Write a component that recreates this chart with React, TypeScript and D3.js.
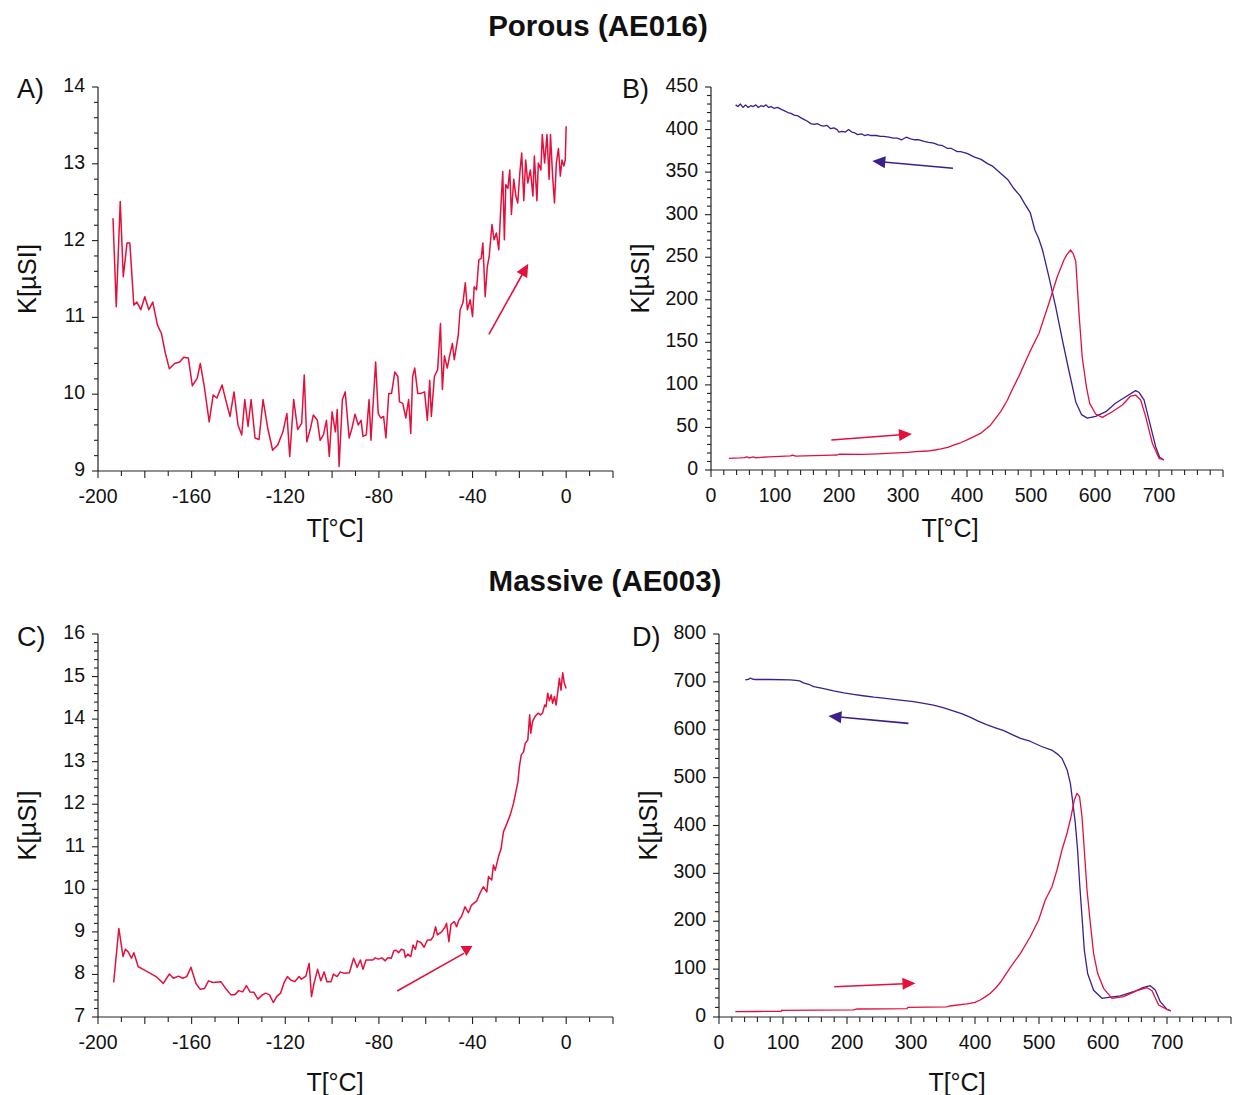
import React from "react";
import * as d3 from "d3";

// ---------- DATA ----------
// Panel A: Porous (AE016), low temperature heating  [T °C, K µSI]
const porousLowT: [number, number][] = [
  [-193.6, 12.29], [-192.2, 11.14], [-190.5, 12.51], [-189.2, 11.53], [-187.6, 11.97], [-186.4, 11.97],
  [-184.7, 11.16], [-183.4, 11.2], [-181.7, 11.1], [-180, 11.27], [-178.3, 11.1], [-176.6, 11.2],
  [-174.6, 10.9], [-172.9, 10.79], [-171.2, 10.53], [-169.5, 10.33], [-167.3, 10.4], [-165.1, 10.42],
  [-163.4, 10.48], [-161.4, 10.47], [-159.7, 10.11], [-157.6, 10.21], [-156.3, 10.4], [-154.6, 10.1],
  [-152.5, 9.64], [-150.8, 9.99], [-149.2, 9.95], [-147, 10.12], [-145.3, 9.91], [-143.6, 9.71],
  [-141.9, 10.03], [-140.2, 9.6], [-138.6, 9.47], [-137.3, 9.93], [-135.9, 9.58], [-134.6, 9.93],
  [-132.9, 9.43], [-131.2, 9.41], [-129.5, 9.93], [-127.5, 9.56], [-125.4, 9.27], [-123.2, 9.34],
  [-121, 9.51], [-119.3, 9.75], [-118.1, 9.19], [-116.4, 9.93], [-114.7, 9.54], [-113, 9.62],
  [-111.9, 10.25], [-110.8, 9.38], [-109.2, 9.56], [-108, 9.73], [-106.3, 9.66], [-105.1, 9.4],
  [-103.7, 9.47], [-102.4, 9.66], [-101.2, 9.19], [-100, 9.77], [-98.6, 9.51], [-97.8, 9.8],
  [-97, 9.06], [-95.6, 9.93], [-94.4, 10.03], [-92.7, 9.43], [-91.5, 9.56], [-90.2, 9.74],
  [-88.8, 9.6], [-87.6, 9.66], [-86.8, 9.45], [-85.4, 9.47], [-84.2, 9.93], [-83.4, 9.4],
  [-81.4, 10.42], [-80.3, 9.75], [-79.2, 9.69], [-78, 9.71], [-77, 9.43], [-75.8, 10.01],
  [-74.6, 10.01], [-73.2, 10.29], [-71.9, 10.23], [-71.2, 9.9], [-69.8, 9.88], [-68.5, 9.69],
  [-67.3, 9.93], [-66.4, 9.49], [-65.6, 10.23], [-64.7, 10.34], [-63.4, 10.01], [-62.2, 10.01],
  [-60.5, 10.03], [-59.3, 9.66], [-58.3, 10.18], [-57.6, 9.71], [-56.3, 10.23], [-54.9, 10.32],
  [-53.7, 10.92], [-52.9, 10.06], [-52, 10.5], [-50.8, 10.34], [-49.8, 10.5], [-48.6, 10.66],
  [-47.8, 10.45], [-46.1, 10.77], [-45.3, 11.1], [-44.1, 11.19], [-43.1, 11.45], [-42.2, 11.1],
  [-41, 11.23], [-40, 11.01], [-39.3, 11.4], [-38.3, 11.36], [-37.3, 11.75], [-36.3, 11.77],
  [-35.6, 11.97], [-34.6, 11.27], [-33.7, 11.66], [-32.9, 11.79], [-31.7, 12.21], [-30.8, 12.01],
  [-29.8, 12.1], [-28.8, 11.88], [-28.1, 12.32], [-27.1, 12.9], [-26.4, 12.01], [-25.8, 12.73],
  [-24.9, 12.68], [-24.1, 12.92], [-23.4, 12.34], [-22.4, 12.8], [-21.5, 12.58], [-20.7, 12.49],
  [-19.8, 12.88], [-19, 13.14], [-18.1, 12.52], [-17.3, 13.05], [-16.4, 12.75], [-15.3, 12.92],
  [-14.2, 12.58], [-13.6, 13.1], [-12.5, 12.52], [-11.9, 13.01], [-10.8, 12.92], [-10.2, 13.38],
  [-9.2, 13.01], [-8.2, 13.38], [-7.3, 12.8], [-6.7, 13.38], [-5.8, 12.84], [-5, 12.49],
  [-4.2, 13.01], [-3.3, 13.2], [-2.5, 12.84], [-1.8, 13.05], [-1, 12.97], [-0.4, 13.05], [0, 13.49],
];

// Panel B: Porous (AE016), high temperature heating (red) and cooling (blue)
const porousHeating: [number, number][] = [
  [28, 13.7], [35, 14], [45, 14.2], [52, 14.5], [56, 15.5], [60, 14.3], [66, 15.4], [70, 14.2],
  [78, 14.9], [90, 15.5], [100, 15.8], [124, 16.5], [128, 17.5], [132, 16.4], [161, 16.9], [190, 17.4],
  [197, 17.6], [200, 18.5], [239, 18.4], [260, 19], [275, 19.6], [300, 20.5], [307, 20.8], [320, 21.5],
  [338, 22.3], [350, 23.5], [359, 24.7], [370, 26.5], [380, 29.4], [390, 32], [400, 35.3], [410, 39],
  [421, 43], [437, 53], [452.6, 68.5], [463, 82], [473, 98], [481, 110], [497, 137], [512.5, 160.6],
  [528, 196], [541, 227], [551.6, 247], [556, 253], [562, 258.5], [566, 254], [570, 245], [575, 184],
  [580, 133], [586.5, 98], [591.7, 78.3], [601, 65.8], [611.5, 61.9], [627, 68.5], [642.7, 76.4],
  [655.7, 86.9], [663.5, 88.1], [671.4, 82.3], [679.2, 62.7], [689.6, 31.3], [700, 13.7], [707.8, 11.8],
];
const porousCooling: [number, number][] = [
  [38.5, 429], [42, 427], [46, 430], [50, 426], [54, 429], [58, 426], [62, 428], [66, 427], [70, 429],
  [74, 426], [78, 428], [82, 427], [86, 429], [90, 426], [94, 427], [98, 425], [104, 426], [109, 424],
  [115, 422], [120, 420], [125, 419], [130, 417], [136, 416], [140, 414], [145, 412], [150, 410],
  [156, 407], [161, 406], [166, 407], [171, 405], [176, 404], [181, 405], [187, 401], [192, 402],
  [197, 400], [200, 397], [205, 398], [210, 397], [215, 400], [220, 397], [225, 396], [229, 394],
  [235, 395], [240, 393], [245, 394], [250, 393], [258, 393], [265, 392], [270, 392], [278, 391],
  [285, 390], [291, 390], [298, 388], [305, 391], [312, 389], [318, 388], [325, 388], [333, 386],
  [340, 385], [348, 384], [355, 382], [362, 381], [369, 378], [375, 378], [380, 376], [385, 374],
  [390, 374], [400, 372], [411, 368], [422, 365], [432, 360], [440, 357], [452, 349], [464, 341],
  [473, 331], [483, 322], [490, 313], [499, 302], [506, 282], [512, 272], [518, 258.5], [528, 227],
  [538.5, 192], [549, 153], [559, 117.5], [570, 80], [579, 65], [588, 61], [601, 63], [617, 68.5],
  [632, 78.4], [648, 86], [663.5, 93.2], [669, 91], [676.6, 82.3], [684.4, 58.8], [694.8, 27.4],
  [701, 15], [707.8, 11.8],
];

// Panel C: Massive (AE003), low temperature heating
const massiveLowT: [number, number][] = [
  [-193.3, 7.81], [-191.1, 9.08], [-189.3, 8.42], [-188.3, 8.59], [-187.1, 8.53], [-185.7, 8.38],
  [-184.7, 8.51], [-182.8, 8.18], [-180.7, 8.12], [-177.8, 8.03], [-175.2, 7.95], [-172.1, 7.79],
  [-169.5, 8.01], [-167.8, 7.91], [-165.6, 7.96], [-163.8, 7.91], [-162.1, 7.95], [-160.3, 8.17],
  [-158.1, 7.78], [-156.3, 7.65], [-154.5, 7.67], [-152.8, 7.85], [-150.9, 7.81], [-147.5, 7.83],
  [-145.2, 7.65], [-143.2, 7.52], [-141.6, 7.52], [-139.9, 7.62], [-138.2, 7.59], [-136.6, 7.74],
  [-135.1, 7.59], [-133.4, 7.58], [-131.7, 7.42], [-129.8, 7.52], [-128.4, 7.56], [-126.7, 7.52],
  [-125.1, 7.34], [-123.7, 7.48], [-122, 7.56], [-120.5, 7.81], [-119.1, 7.95], [-117.7, 7.87],
  [-116, 7.83], [-114.1, 7.95], [-113.1, 7.89], [-111.2, 7.96], [-109.8, 8.26], [-108.8, 7.48],
  [-107.7, 7.79], [-106.2, 8.12], [-104.8, 7.85], [-103.4, 8.06], [-102.2, 7.83], [-100.5, 7.83],
  [-99.4, 8.01], [-97.9, 7.95], [-96.5, 8.06], [-95.1, 8.03], [-92.6, 8.04], [-90.8, 8.38],
  [-89.3, 8.17], [-87.9, 8.34], [-86.8, 8.12], [-85.5, 8.34], [-82.6, 8.34], [-81.6, 8.39],
  [-80.2, 8.36], [-78.7, 8.39], [-77.3, 8.32], [-76.2, 8.39], [-74.7, 8.38], [-73.6, 8.56],
  [-72.6, 8.57], [-71.6, 8.51], [-70.4, 8.59], [-69.3, 8.57], [-68.7, 8.4], [-67.6, 8.48],
  [-66.4, 8.42], [-65.4, 8.69], [-64.4, 8.59], [-63.6, 8.79], [-62.1, 8.75], [-60.7, 8.64],
  [-59.3, 8.81], [-57.8, 8.81], [-56.8, 8.89], [-55.8, 9.12], [-55, 8.93], [-53.2, 9.0],
  [-51.8, 9.11], [-51.1, 9.2], [-50.1, 8.77], [-49.2, 9.18], [-47.8, 9.24], [-46.8, 9.12],
  [-45.8, 9.28], [-44.7, 9.36], [-43.2, 9.59], [-41.8, 9.45], [-40.4, 9.63], [-38.2, 9.73],
  [-36.8, 9.91], [-35.4, 10.06], [-33.9, 9.94], [-33.2, 10.3], [-31.8, 10.22], [-31.1, 10.57],
  [-30.3, 10.45], [-28.9, 10.77], [-27.8, 10.96], [-26.8, 11.35], [-25.3, 11.55], [-23.9, 11.75],
  [-22.5, 12.02], [-21.5, 12.29], [-20.6, 12.53], [-20, 12.88], [-19.2, 13.16], [-18.2, 13.23],
  [-17.5, 13.43], [-16.4, 13.51], [-15.6, 14.1], [-15.1, 13.67], [-14.4, 13.94], [-13.2, 14.07],
  [-12, 14.14], [-11, 14.1], [-10.1, 14.14], [-9.2, 14.33], [-8.6, 14.29], [-7.9, 14.61],
  [-7.2, 14.43], [-6.4, 14.57], [-5.8, 14.37], [-5, 14.53], [-4.3, 14.33], [-3.6, 14.64],
  [-2.9, 14.96], [-2.2, 14.68], [-1.5, 15.09], [-0.8, 14.84], [0, 14.72],
];

// Panel D: Massive (AE003), high temperature heating (red) and cooling (blue)
const massiveHeating: [number, number][] = [
  [25.5, 11.1], [60, 11.5], [97, 11.8], [98.4, 14.6], [100, 14], [150, 14.4], [210, 15], [215, 16.7],
  [260, 17], [293.8, 17.5], [295, 20.3], [356, 21], [360, 23], [387.5, 27.2], [400, 30.5], [408, 35.5],
  [416, 42], [424, 49.5], [432, 60], [439.5, 72], [455, 103], [471, 133], [486.4, 167.7], [499.4, 202.6],
  [509.8, 244.4], [520.3, 272.2], [528.1, 307], [535.9, 348.8], [543.8, 383.7], [550, 418.3],
  [555.2, 453.2], [559.4, 467.2], [563.4, 460.1], [567.2, 418.3], [570.8, 348.8], [575, 265.2],
  [580.2, 195.7], [585.3, 133], [591.6, 91.3], [600.9, 59.9], [614, 39], [632.2, 42.4], [653.1, 54.9],
  [668.8, 61.2], [676.6, 54.9], [686.9, 25.1], [700, 16], [705.2, 13.2],
];
const massiveCooling: [number, number][] = [
  [41, 704], [46, 705], [49, 708], [51.6, 706], [55, 705], [80, 705], [111, 704], [120, 703], [126, 702],
  [132, 698], [140, 695], [148, 690], [160, 687], [179, 681], [195, 677], [210, 674], [225, 671],
  [242, 668], [257, 666], [273, 663.5], [290, 661], [304, 658.6], [320, 655], [335, 651.6], [350, 646],
  [367, 639], [380, 633], [393, 626], [405, 618], [419, 610], [432, 604], [445, 598], [458, 590],
  [471, 582], [486, 576], [504, 565], [520, 557.6], [530, 548], [536, 540], [544, 516], [549, 488],
  [553, 446], [556.7, 405], [560.3, 349], [563.5, 279], [567.2, 209.5], [570.8, 140], [576, 91],
  [585.3, 56], [598.4, 39], [608.8, 41], [627, 44], [647.8, 52.8], [663.4, 62], [673.9, 65.4],
  [681.7, 56.4], [689.5, 32], [700, 16], [706.2, 12.5],
];

// Direction arrows: [start, tip] in data units
const arrowA: [number, number][] = [[-33, 10.78], [-16.2, 11.7]];
const arrowBHeat: [number, number][] = [[188, 35.3], [314, 42.3]];
const arrowBCool: [number, number][] = [[378, 354.5], [252, 363]];
const arrowC: [number, number][] = [[-72.2, 7.61], [-42.6, 8.53]];
const arrowDHeat: [number, number][] = [[180, 63.3], [307, 70.4]];
const arrowDCool: [number, number][] = [[296, 613.4], [171, 628.7]];

// Tick labels
const lowTLabels = [-200, -160, -120, -80, -40, 0];
const highTLabels = [0, 100, 200, 300, 400, 500, 600, 700];
const kLabelsA = [9, 10, 11, 12, 13, 14];
const kLabelsB = [0, 50, 100, 150, 200, 250, 300, 350, 400, 450];
const kLabelsC = [7, 8, 9, 10, 11, 12, 13, 14, 15, 16];
const kLabelsD = [0, 100, 200, 300, 400, 500, 600, 700, 800];

const RED = "#e3103c";
const BLUE = "#3d1f8c";
const FONT = "'Liberation Sans', Arial, Helvetica, sans-serif";

type Pt = [number, number];

interface PanelProps {
  letter: string;
  letterX: number;
  letterY: number;
  xDomain: [number, number];
  xRange: [number, number];
  yDomain: [number, number];
  yRange: [number, number];
  xMinor: number;
  xMajor: number;
  xLabels: number[];
  yMinor: number;
  yMajor: number;
  yLabels: number[];
  series: { data: Pt[]; color: string; width: number }[];
  arrows: { pts: Pt[]; color: string; kind?: string }[];
  yTitleX: number;
  xTitleX: number;
  xTitleY: number;
}

function isMult(v: number, step: number) {
  const r = v / step;
  return Math.abs(r - Math.round(r)) < 1e-6;
}

function Panel(p: PanelProps) {
  const x = d3.scaleLinear().domain(p.xDomain).range(p.xRange);
  const y = d3.scaleLinear().domain(p.yDomain).range(p.yRange);
  const line = d3
    .line<Pt>()
    .x((d) => x(d[0]))
    .y((d) => y(d[1]));
  const xAxisY = p.yRange[0];
  const yAxisX = p.xRange[0];
  const nX = Math.round((p.xDomain[1] - p.xDomain[0]) / p.xMinor);
  const nY = Math.round((p.yDomain[1] - p.yDomain[0]) / p.yMinor);
  const xTicks = d3.range(nX + 1).map((i) => p.xDomain[0] + i * p.xMinor);
  const yTicks = d3.range(nY + 1).map((i) => p.yDomain[0] + i * p.yMinor);
  const yMid = (p.yRange[0] + p.yRange[1]) / 2;

  const arrowShapes = p.arrows.map((a, i) => {
    const x1 = x(a.pts[0][0]);
    const y1 = y(a.pts[0][1]);
    const x2 = x(a.pts[1][0]);
    const y2 = y(a.pts[1][1]);
    const ang = Math.atan2(y2 - y1, x2 - x1);
    const L = 13;
    const Wd = 6;
    const bx = x2 - L * Math.cos(ang);
    const by = y2 - L * Math.sin(ang);
    const nx = -Math.sin(ang);
    const ny = Math.cos(ang);
    let head: string;
    if (a.kind === "flat") {
      head = `${x2 - 6},${y2 - 6} ${x2 + 6},${y2 - 6} ${x2},${y2 + 4}`;
    } else {
      head = `${x2},${y2} ${bx + nx * Wd},${by + ny * Wd} ${bx - nx * Wd},${by - ny * Wd}`;
    }
    const lx2 = a.kind === "flat" ? x2 - 3 * Math.cos(ang) : bx + 2 * Math.cos(ang);
    const ly2 = a.kind === "flat" ? y2 - 3 * Math.sin(ang) : by + 2 * Math.sin(ang);
    return (
      <g key={i}>
        <line x1={x1} y1={y1} x2={lx2} y2={ly2} stroke={a.color} strokeWidth={1.6} />
        <polygon points={head} fill={a.color} />
      </g>
    );
  });

  return (
    <g>
      {/* axes lines */}
      <line x1={yAxisX} y1={p.yRange[1]} x2={yAxisX} y2={xAxisY} stroke="#222" strokeWidth={1.2} />
      <line x1={yAxisX} y1={xAxisY} x2={p.xRange[1]} y2={xAxisY} stroke="#222" strokeWidth={1.2} />
      {xTicks.map((t, i) => (
        <line
          key={"xt" + i}
          x1={x(t)}
          x2={x(t)}
          y1={xAxisY}
          y2={xAxisY + (isMult(t, p.xMajor) ? 7 : 5)}
          stroke="#222"
          strokeWidth={1.1}
        />
      ))}
      {yTicks.map((t, i) => (
        <line
          key={"yt" + i}
          x1={yAxisX}
          x2={yAxisX - (isMult(t, p.yMajor) ? 6 : 4)}
          y1={y(t)}
          y2={y(t)}
          stroke="#222"
          strokeWidth={1.1}
        />
      ))}
      {p.xLabels.map((t) => (
        <text key={"xl" + t} x={x(t)} y={xAxisY + 32} textAnchor="middle" fontSize={19.5} fontFamily={FONT} fill="#111">
          {t}
        </text>
      ))}
      {p.yLabels.map((t) => (
        <text key={"yl" + t} x={yAxisX - 13} y={y(t) + 5} textAnchor="end" fontSize={19.5} fontFamily={FONT} fill="#111">
          {t}
        </text>
      ))}
      {/* titles */}
      <text x={p.xTitleX} y={p.xTitleY} textAnchor="middle" fontSize={25} fontFamily={FONT} fill="#111">
        T[°C]
      </text>
      <text
        transform={`translate(${p.yTitleX},${yMid}) rotate(-90)`}
        textAnchor="middle"
        dominantBaseline="central"
        fontSize={25.5}
        fontFamily={FONT}
        fill="#111"
      >
        K[µSI]
      </text>
      <text x={p.letterX} y={p.letterY} fontSize={27} fontFamily={FONT} fill="#111">
        {p.letter}
      </text>
      {/* data */}
      {p.series.map((s, i) => (
        <path key={"s" + i} d={line(s.data) || ""} fill="none" stroke={s.color} strokeWidth={s.width} strokeLinejoin="round" />
      ))}
      {arrowShapes}
    </g>
  );
}

export default function App() {
  return (
    <svg
      width={1236}
      height={1095}
      viewBox="0 0 1236 1095"
      style={{ position: "absolute", left: 0, top: 0, background: "#fff" }}
    >
      <rect x={0} y={0} width={1236} height={1095} fill="#fff" />
      <text x={598} y={36} textAnchor="middle" fontSize={29.5} fontWeight="bold" fontFamily={FONT} fill="#111">
        Porous (AE016)
      </text>
      <text x={605} y={591} textAnchor="middle" fontSize={29.5} fontWeight="bold" fontFamily={FONT} fill="#111">
        Massive (AE003)
      </text>
      <Panel
        letter="A)"
        letterX={17}
        letterY={98}
        xDomain={[-200, 20]}
        xRange={[98, 613]}
        yDomain={[9, 14]}
        yRange={[471, 87]}
        xMinor={10}
        xMajor={20}
        xLabels={lowTLabels}
        yMinor={0.2}
        yMajor={1}
        yLabels={kLabelsA}
        series={[{ data: porousLowT, color: RED, width: 1.5 }]}
        arrows={[{ pts: arrowA, color: RED }]}
        yTitleX={27}
        xTitleX={335}
        xTitleY={537}
      />
      <Panel
        letter="B)"
        letterX={622}
        letterY={98}
        xDomain={[0, 800]}
        xRange={[711, 1223]}
        yDomain={[0, 450]}
        yRange={[470, 87]}
        xMinor={20}
        xMajor={100}
        xLabels={highTLabels}
        yMinor={10}
        yMajor={50}
        yLabels={kLabelsB}
        series={[
          { data: porousCooling, color: BLUE, width: 1.3 },
          { data: porousHeating, color: RED, width: 1.3 },
        ]}
        arrows={[
          { pts: arrowBCool, color: BLUE },
          { pts: arrowBHeat, color: RED },
        ]}
        yTitleX={640}
        xTitleX={950}
        xTitleY={537}
      />
      <Panel
        letter="C)"
        letterX={17}
        letterY={646}
        xDomain={[-200, 20]}
        xRange={[98, 613]}
        yDomain={[7, 16]}
        yRange={[1017, 634]}
        xMinor={10}
        xMajor={20}
        xLabels={lowTLabels}
        yMinor={0.2}
        yMajor={1}
        yLabels={kLabelsC}
        series={[{ data: massiveLowT, color: RED, width: 1.5 }]}
        arrows={[{ pts: arrowC, color: RED, kind: "flat" }]}
        yTitleX={27}
        xTitleX={335}
        xTitleY={1091}
      />
      <Panel
        letter="D)"
        letterX={632}
        letterY={646}
        xDomain={[0, 800]}
        xRange={[719, 1231]}
        yDomain={[0, 800]}
        yRange={[1017, 634]}
        xMinor={20}
        xMajor={100}
        xLabels={highTLabels}
        yMinor={20}
        yMajor={100}
        yLabels={kLabelsD}
        series={[
          { data: massiveCooling, color: BLUE, width: 1.3 },
          { data: massiveHeating, color: RED, width: 1.3 },
        ]}
        arrows={[
          { pts: arrowDCool, color: BLUE },
          { pts: arrowDHeat, color: RED },
        ]}
        yTitleX={648}
        xTitleX={957}
        xTitleY={1091}
      />
    </svg>
  );
}
